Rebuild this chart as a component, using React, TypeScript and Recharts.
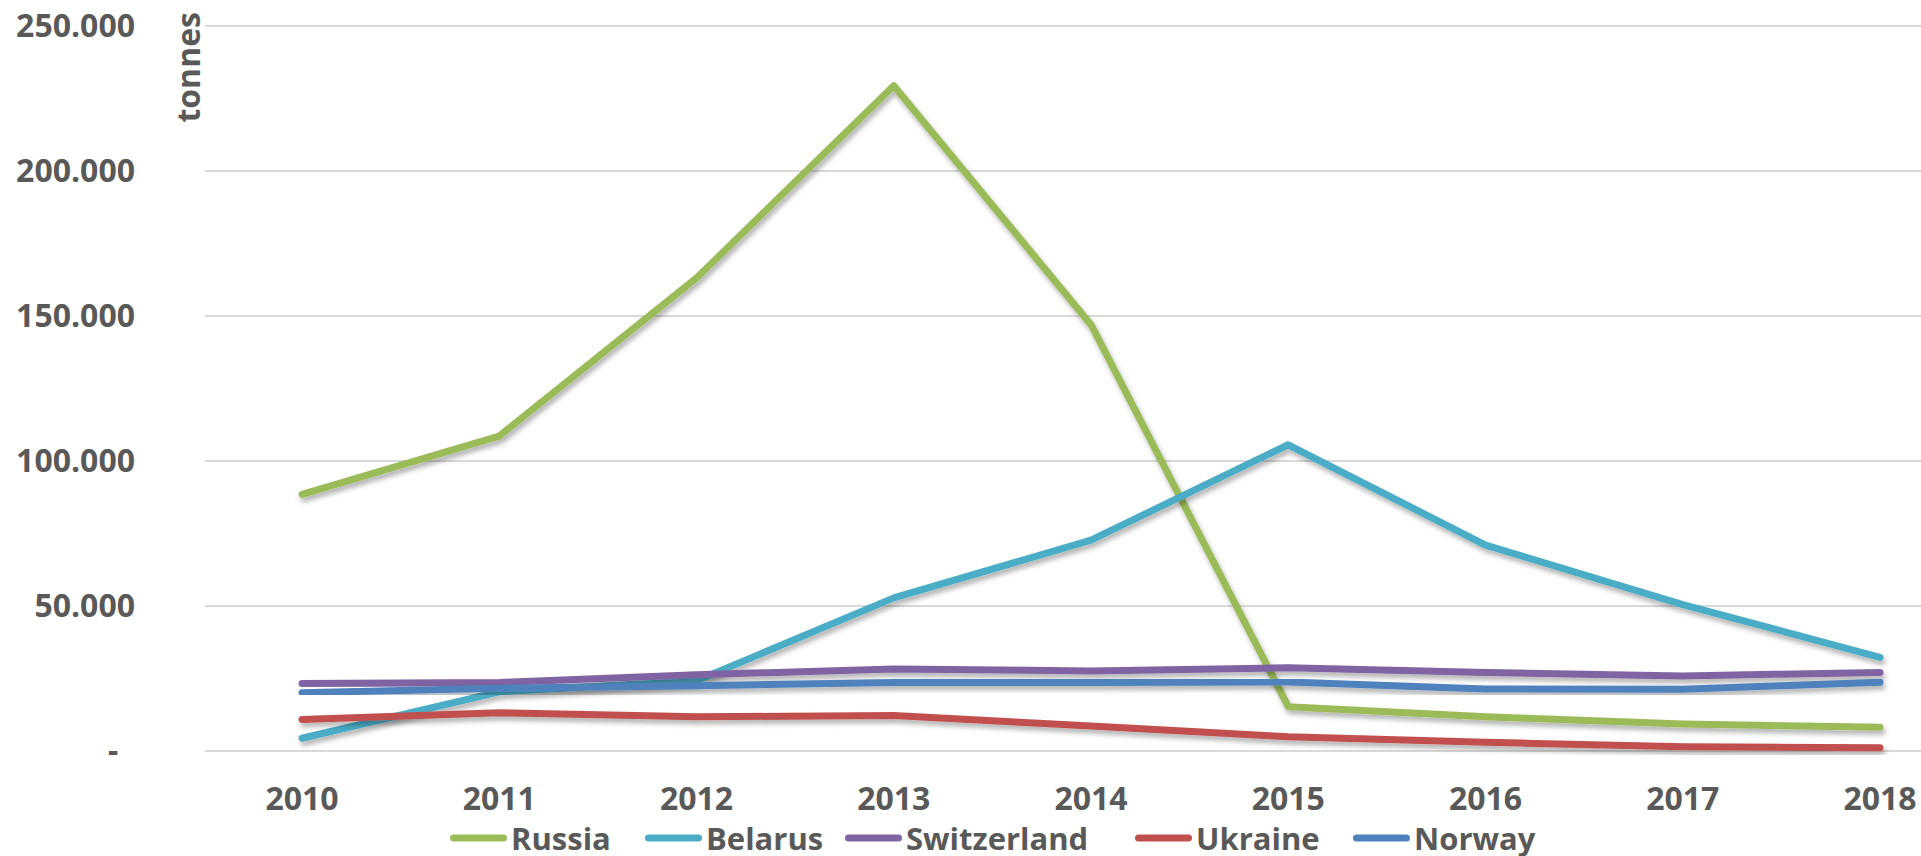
import React from 'react';
import { LineChart, Line, XAxis, YAxis, CartesianGrid, Legend, Label } from 'recharts';

const years = ['2010', '2011', '2012', '2013', '2014', '2015', '2016', '2017', '2018'];
const russia = [88500, 108600, 163100, 229400, 147000, 15300, 11800, 9300, 8200];
const belarus = [4400, 20400, 24200, 52800, 72700, 105600, 71000, 50500, 32300];
const switzerland = [23300, 23600, 26300, 28300, 27600, 28700, 27100, 25900, 27100];
const ukraine = [10900, 13200, 11800, 12200, 8600, 4900, 3000, 1500, 1100];
const norway = [20100, 21600, 22500, 23600, 23600, 23800, 21400, 21300, 23700];
const yTicks = [0, 50000, 100000, 150000, 200000, 250000];

const seriesNames = ['Russia', 'Belarus', 'Switzerland', 'Ukraine', 'Norway'];
const seriesValues = [russia, belarus, switzerland, ukraine, norway];
const seriesColors = ['#9BBB59', '#4BACC6', '#8064A2', '#C0504D', '#4F81BD'];

const data = years.map((year, i) => {
  const row: Record<string, string | number> = { year };
  seriesNames.forEach((name, s) => {
    row[name] = seriesValues[s][i];
  });
  return row;
});

const FONT = "'Open Sans', sans-serif";
const TEXT_COLOR = '#595959';

const formatY = (v: number) => {
  if (v === 0) return '-\u00a0\u00a0';
  return `${Math.floor(v / 1000)}.000`;
};

const legendStarts = [450, 645, 845, 1135, 1353];

const renderLegend = () => (
  <div style={{ position: 'relative', height: 36, width: 1921 }}>
    {seriesNames.map((name, i) => (
      <div
        key={name}
        style={{
          position: 'absolute',
          left: legendStarts[i],
          top: 0,
          height: 36,
          display: 'flex',
          alignItems: 'center',
        }}
      >
        <svg width={57} height={10} style={{ display: 'block' }}>
          <line x1={3.5} y1={5} x2={53.5} y2={5} stroke={seriesColors[i]} strokeWidth={7} strokeLinecap="round" />
        </svg>
        <span
          style={{
            marginLeft: 4,
            fontFamily: FONT,
            fontWeight: 700,
            fontSize: 31,
            lineHeight: '36px',
            color: TEXT_COLOR,
            whiteSpace: 'nowrap',
          }}
        >
          {name}
        </span>
      </div>
    ))}
  </div>
);

export default function App() {
  return (
    <div style={{ position: 'absolute', left: 0, top: 0, width: 1921, height: 856, background: '#fff' }}>
      <LineChart width={1921} height={856} data={data} margin={{ top: 26, right: 0, left: 0, bottom: 0 }}>
        <defs>
          <filter id="lineShadow" x="-5%" y="-20%" width="110%" height="140%">
            <feDropShadow dx="2" dy="4" stdDeviation="2.5" floodColor="#000" floodOpacity="0.3" />
          </filter>
        </defs>
        <CartesianGrid vertical={false} stroke="#D9D9D9" strokeWidth={2} />
        <XAxis
          dataKey="year"
          axisLine={false}
          tickLine={false}
          tickSize={0}
          tickMargin={36}
          height={69}
          padding={{ left: 97, right: 41 }}
          interval={0}
          tick={{ fill: TEXT_COLOR, fontSize: 32, fontWeight: 700, fontFamily: FONT }}
        />
        <YAxis
          width={205}
          domain={[0, 250000]}
          ticks={yTicks}
          axisLine={false}
          tickLine={false}
          tickSize={0}
          tickMargin={70}
          tickFormatter={formatY}
          tick={{ fill: TEXT_COLOR, fontSize: 32, fontWeight: 700, fontFamily: FONT }}
        >
          <Label
            content={() => (
              <text
                x={200}
                y={12}
                transform="rotate(-90 200 12)"
                textAnchor="end"
                fill={TEXT_COLOR}
                fontSize={32}
                fontWeight={700}
                fontFamily={FONT}
              >
                tonnes
              </text>
            )}
          />
        </YAxis>
        <Legend verticalAlign="bottom" content={renderLegend} wrapperStyle={{ left: 0, width: 1921 }} />
        {seriesNames.map((name, i) => (
          <Line
            key={name}
            type="linear"
            dataKey={name}
            name={name}
            stroke={seriesColors[i]}
            strokeWidth={7}
            strokeLinecap="round"
            strokeLinejoin="round"
            filter="url(#lineShadow)"
            dot={false}
            activeDot={false}
            isAnimationActive={false}
          />
        ))}
      </LineChart>
    </div>
  );
}
